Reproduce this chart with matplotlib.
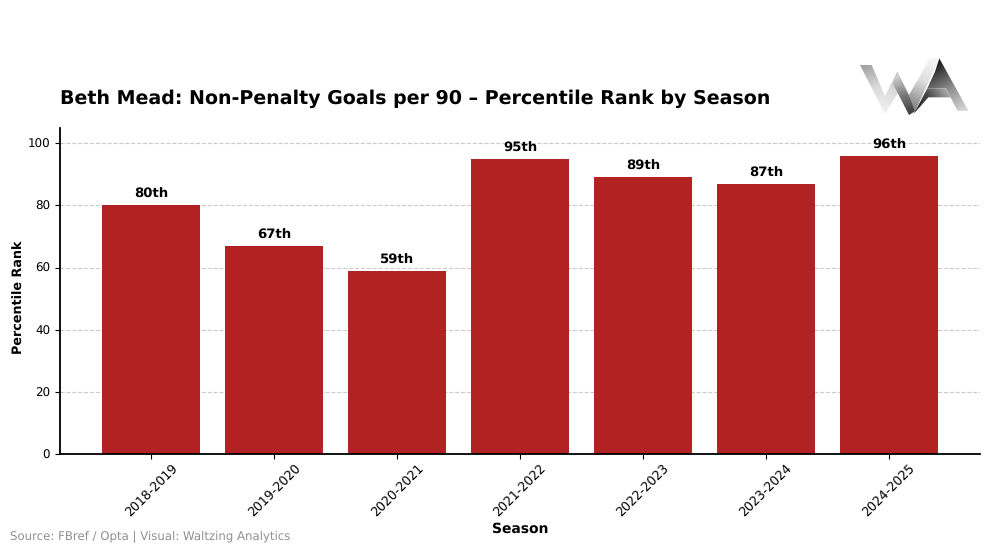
import matplotlib
matplotlib.use('Agg')
import matplotlib.pyplot as plt
from matplotlib.patches import Polygon
from matplotlib.colors import LinearSegmentedColormap
import numpy as np

plt.rcParams['text.hinting'] = 'no_hinting'

seasons = ['2018-2019', '2019-2020', '2020-2021', '2021-2022', '2022-2023', '2023-2024', '2024-2025']
percentiles = [80, 67, 59, 95, 89, 87, 96]
bar_labels = ['80th', '67th', '59th', '95th', '89th', '87th', '96th']
y_ticks = [0, 20, 40, 60, 80, 100]

fig = plt.figure(figsize=(10, 5.52), dpi=100)
ax = fig.add_axes([0.06, 0.177, 0.92, 0.592])

ax.bar(seasons, percentiles, color='#B22222', width=0.8, zorder=2)
for i, v in enumerate(percentiles):
    ax.text(i, v + 1.4, bar_labels[i], ha='center', va='bottom', fontsize=9.5, fontweight='bold')

ax.set_ylim(0, 105)
ax.set_xlim(-0.74, 6.74)
ax.set_yticks(y_ticks)
ax.tick_params(axis='y', labelsize=8.6)
ax.tick_params(axis='x', labelsize=9, pad=1.5)
plt.setp(ax.get_xticklabels(), rotation=45)
ax.grid(axis='y', linestyle='--', color='#cccccc', linewidth=0.8, zorder=0)
ax.spines['top'].set_visible(False)
ax.spines['right'].set_visible(False)
ax.spines['left'].set_linewidth(1.3)
ax.spines['bottom'].set_linewidth(1.3)
ax.set_xlabel('Season', fontsize=10, fontweight='bold', labelpad=2.5)
ax.set_ylabel('Percentile Rank', fontsize=9.2, fontweight='bold', labelpad=1.5, y=0.48)

fig.text(0.06, 0.822, 'Beth Mead: Non-Penalty Goals per 90 \u2013 Percentile Rank by Season',
         fontsize=13.7, fontweight='bold', ha='left', va='center')
fig.text(0.01, 0.027, 'Source: FBref / Opta | Visual: Waltzing Analytics', fontsize=8.5, color='#909090',
         ha='left', va='center')

# logo: each piece is a polygon with its own grey gradient, points in zoomed crop pixels
logo = fig.add_axes([0, 0, 1, 1], facecolor='none')
logo.axis('off')


def logo_piece(points, start, end, colours):
    pts = [(840 + x / 3, 40 + y / 3) for x, y in points]
    x0, y0 = 840 + start[0] / 3, 40 + start[1] / 3
    x1, y1 = 840 + end[0] / 3, 40 + end[1] / 3
    xs = np.linspace(855, 975, 240)
    ys = np.linspace(50, 120, 140)
    xx, yy = np.meshgrid(xs, ys)
    t = ((xx - x0) * (x1 - x0) + (yy - y0) * (y1 - y0)) / ((x1 - x0) ** 2 + (y1 - y0) ** 2)
    cmap = LinearSegmentedColormap.from_list('piece', colours)
    im = logo.imshow(np.clip(t, 0, 1), extent=(855, 975, 120, 50), cmap=cmap, vmin=0, vmax=1,
                     aspect='auto', interpolation='bilinear')
    im.set_clip_path(Polygon(pts, closed=True, transform=logo.transData))


logo_piece([(60, 75), (95, 75), (135, 168), (152, 185), (135, 222)], (70, 75), (135, 220), ['#a0a0a0', '#dcdcdc', '#f2f2f2'])
logo_piece([(135, 168), (172, 95), (190, 132), (135, 222)], (135, 220), (180, 100), ['#f2f2f2', '#dddddd', '#c4c4c4'])
logo_piece([(172, 95), (207, 165), (228, 212), (207, 225), (158, 130)], (175, 110), (210, 225), ['#cccccc', '#777777', '#3a3a3a'])
logo_piece([(207, 165), (270, 55), (298, 55), (225, 215)], (285, 55), (212, 190), ['#f8f8f8', '#dedede', '#8c8c8c'])
logo_piece([(298, 55), (385, 212), (352, 212), (318, 145), (262, 145), (285, 95)], (290, 75), (370, 210), ['#222222', '#8c8c8c', '#d4d4d4'])
logo_piece([(262, 145), (318, 145), (332, 172), (265, 172), (218, 225), (225, 215)], (325, 150), (220, 220), ['#b0b0b0', '#444444', '#1e1e1e'])

logo.set_xlim(0, 1000)
logo.set_ylim(552, 0)

fig.savefig('out.png', dpi=100)
